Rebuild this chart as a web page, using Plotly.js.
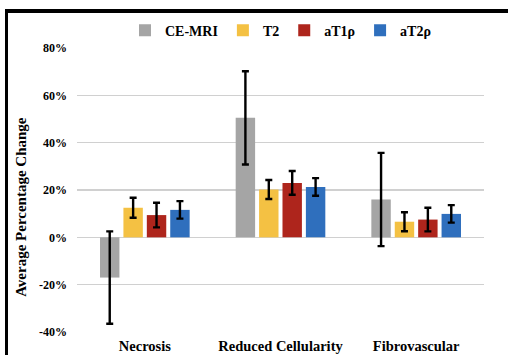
<!DOCTYPE html>
<html>
<head>
<meta charset="utf-8">
<script src="https://cdn.plot.ly/plotly-3.0.1.min.js"></script>
<style>
  html, body { margin: 0; padding: 0; background: #ffffff; }
  #wrap { position: relative; width: 508px; height: 355px; overflow: hidden; }
  #chart { position: absolute; left: 0; top: 0; width: 508px; height: 355px; }
  #frame { position: absolute; left: 5px; top: 9px; width: 520px; height: 360px;
           border-top: 4px solid #000; border-left: 3px solid #000; pointer-events: none; }
</style>
</head>
<body>
<div id="wrap">
  <div id="chart"></div>
  <div id="frame"></div>
</div>
<script>
const categories = ["Necrosis", "Reduced Cellularity", "Fibrovascular"];
const seriesNames = ["CE-MRI", "T2", "aT1ρ", "aT2ρ"];
const ceMri  = [-17.0, 50.5, 16.0];
const ceMriErr = [19.5, 19.7, 19.7];
const t2     = [12.5, 20.2, 6.6];
const t2Err  = [4.2, 4.0, 4.0];
const aT1rho = [9.4, 23.0, 7.5];
const aT1rhoErr = [5.2, 5.0, 5.0];
const aT2rho = [11.6, 21.3, 9.9];
const aT2rhoErr = [3.7, 3.7, 3.7];
const colors = ["#A5A5A5", "#F4C143", "#AE251C", "#2F6FBD"];
const yTickVals = [-40, -20, 0, 20, 40, 60, 80];
const yAxisTitle = "Average Percentage Change";

const values = [ceMri, t2, aT1rho, aT2rho];
const errors = [ceMriErr, t2Err, aT1rhoErr, aT2rhoErr];

const traces = seriesNames.map((name, i) => ({
  type: "bar",
  name: name,
  x: categories,
  y: values[i],
  marker: { color: colors[i], line: { width: 0 } },
  error_y: { type: "data", array: errors[i], visible: true, color: "#000000", thickness: 2.4, width: 3.5 }
}));

const serif = "Liberation Serif, Times New Roman, serif";

const layout = {
  width: 508,
  height: 355,
  margin: { l: 77, r: 24, t: 48, b: 23 },
  paper_bgcolor: "#ffffff",
  plot_bgcolor: "#ffffff",
  barmode: "group",
  bargap: 0.31,
  bargroupgap: 0.17,
  showlegend: true,
  legend: {
    orientation: "h",
    x: 0.5, xanchor: "center",
    y: 1.005, yanchor: "bottom",
    font: { family: serif, size: 14, color: "#000", weight: "bold" },
    itemwidth: 30,
    tracegroupgap: 0
  },
  xaxis: {
    type: "category",
    showgrid: false,
    showline: false,
    zeroline: false,
    ticks: "",
    tickfont: { family: serif, size: 14.5, color: "#000", weight: "bold" },
    ticklabelstandoff: 3
  },
  yaxis: {
    range: [-40, 80],
    tickvals: yTickVals,
    ticktext: yTickVals.map(v => v + "%"),
    showgrid: true,
    gridcolor: "#D0D0D0",
    gridwidth: 1.2,
    zeroline: false,
    showline: false,
    ticks: "",
    tickfont: { family: serif, size: 12, color: "#000", weight: "bold" },
    ticklabelstandoff: 9,
    automargin: false
  },
  annotations: [{
    text: yAxisTitle,
    xref: "paper", yref: "paper",
    x: -0.138, y: 0.44,
    xanchor: "center", yanchor: "middle",
    textangle: -90,
    showarrow: false,
    font: { family: serif, size: 15, color: "#000", weight: "bold" }
  }]
};

Plotly.newPlot("chart", traces, layout, { displayModeBar: false, staticPlot: true });
</script>
</body>
</html>
